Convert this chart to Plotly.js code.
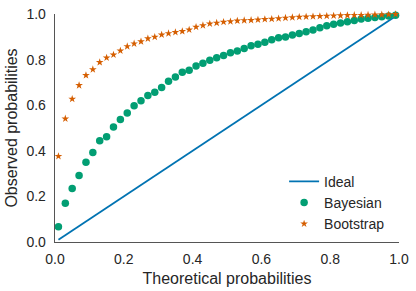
<!DOCTYPE html>
<html><head><meta charset="utf-8">
<script src="https://cdn.plot.ly/plotly-3.0.1.min.js"></script>
<style>html,body{margin:0;padding:0;background:#fff;}#chart{width:416px;height:291px;}</style>
</head><body><div id="chart"></div>
<script>
const theoretical = [0.01,0.03,0.05,0.07,0.09,0.11,0.13,0.15,0.17,0.19,0.21,0.23,0.25,0.27,0.29,0.31,0.33,0.35,0.37,0.39,0.41,0.43,0.45,0.47,0.49,0.51,0.53,0.55,0.57,0.59,0.61,0.63,0.65,0.67,0.69,0.71,0.73,0.75,0.77,0.79,0.81,0.83,0.85,0.87,0.89,0.91,0.93,0.95,0.97,0.99];
const ideal = [0.01,0.99];
const bayesian = [0.067,0.170,0.235,0.292,0.350,0.392,0.444,0.462,0.504,0.537,0.566,0.598,0.620,0.642,0.657,0.678,0.705,0.724,0.744,0.753,0.772,0.784,0.797,0.808,0.818,0.830,0.838,0.849,0.861,0.867,0.876,0.887,0.896,0.899,0.908,0.915,0.922,0.930,0.940,0.949,0.955,0.961,0.966,0.972,0.978,0.981,0.985,0.988,0.991,0.994];
const bootstrap = [0.376,0.541,0.627,0.687,0.731,0.757,0.788,0.808,0.821,0.839,0.858,0.870,0.879,0.892,0.899,0.909,0.915,0.920,0.924,0.931,0.943,0.950,0.957,0.961,0.965,0.967,0.970,0.972,0.973,0.975,0.977,0.978,0.980,0.983,0.985,0.987,0.988,0.989,0.990,0.991,0.992,0.993,0.994,0.995,0.995,0.996,0.997,0.997,0.998,0.999];
const xTicks = [0,0.2,0.4,0.6,0.8,1.0];
const xTickText = ['0.0','0.2','0.4','0.6','0.8','1.0'];
const yTicks = [0,0.2,0.4,0.6,0.8,1.0];
const yTickText = ['0.0','0.2','0.4','0.6','0.8','1.0'];

const font = 'Liberation Sans, Arial, sans-serif';
const traces = [
  {x: ideal, y: ideal, mode: 'lines', name: 'Ideal', line: {color: '#0173B2', width: 1.8}, cliponaxis: false},
  {x: theoretical, y: bayesian, mode: 'markers', name: 'Bayesian', marker: {color: '#029E73', size: 7.5, symbol: 'circle'}, cliponaxis: false},
  {x: theoretical, y: bootstrap, mode: 'markers', name: 'Bootstrap', marker: {color: '#D55E00', size: 5.8, symbol: 'star'}, cliponaxis: false}
];
const layout = {
  width: 416, height: 291,
  margin: {l: 55, r: 17, t: 14, b: 49},
  paper_bgcolor: '#fff', plot_bgcolor: '#fff',
  font: {family: font, size: 14, color: '#262626'},
  showlegend: true,
  legend: {x: 0.666, y: 0.01, xanchor: 'left', yanchor: 'bottom', bgcolor: 'rgba(0,0,0,0)', font: {size: 14, color: '#262626'}, tracegroupgap: 0},
  xaxis: {range: [0, 1], tickvals: xTicks, ticktext: xTickText, showgrid: false, zeroline: false, showline: true, linecolor: '#555', linewidth: 1.3, ticks: '', ticklabelstandoff: 4,
          title: {text: 'Theoretical probabilities', font: {size: 16, color: '#262626'}, standoff: 6}, fixedrange: true},
  yaxis: {range: [0, 1], tickvals: yTicks, ticktext: yTickText, showgrid: false, zeroline: false, showline: true, linecolor: '#555', linewidth: 1.3, ticks: '', ticklabelstandoff: 5,
          title: {text: 'Observed probabilities', font: {size: 16, color: '#262626'}, standoff: 4}, fixedrange: true}
};
Plotly.newPlot('chart', traces, layout, {displayModeBar: false, staticPlot: true});
</script></body></html>
